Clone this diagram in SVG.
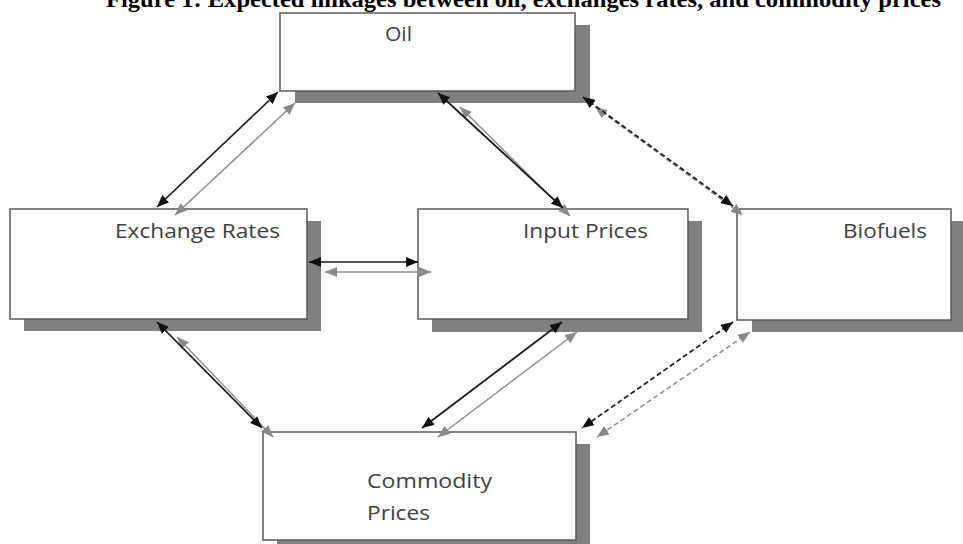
<svg xmlns="http://www.w3.org/2000/svg" width="963" height="544" viewBox="0 0 963 544">
<style>
.title{font-family:"Liberation Serif","Times New Roman",serif;font-weight:bold;font-size:23px;fill:#000}
.lbl{font-family:"Open Sans","Liberation Sans",sans-serif;font-size:20px;fill:#404040}
.box{fill:#fff;stroke:#595959;stroke-width:1.5}
.shadow{fill:#808080}
.blk{stroke:#1a1a1a;stroke-width:1.7;fill:none;marker-start:url(#hb);marker-end:url(#hb)}
.gry{stroke:#8f8f8f;stroke-width:1.5;fill:none;marker-start:url(#hg);marker-end:url(#hg)}
.dash{stroke-dasharray:5 3}
</style>
<defs>
<marker id="hb" viewBox="0 0 12 10" refX="12" refY="5" markerWidth="12" markerHeight="10" markerUnits="userSpaceOnUse" orient="auto-start-reverse"><path d="M0,0 L12,5 L0,10 Z" fill="#111"/></marker>
<marker id="hg" viewBox="0 0 12 10" refX="12" refY="5" markerWidth="12" markerHeight="10" markerUnits="userSpaceOnUse" orient="auto-start-reverse"><path d="M0,0 L12,5 L0,10 Z" fill="#8a8a8a"/></marker>
</defs>
<text class="title" x="106" y="7" textLength="835" lengthAdjust="spacingAndGlyphs">Figure 1: Expected linkages between oil, exchanges rates, and commodity prices</text>
<g id="oil">
<rect class="shadow" x="295" y="25" width="295" height="78"/>
<rect class="box" x="280" y="13" width="295" height="78"/>
<text class="lbl" x="385" y="41" textLength="27" lengthAdjust="spacingAndGlyphs">Oil</text>
</g>
<g id="exchange-rates">
<rect class="shadow" x="24" y="221" width="297" height="110"/>
<rect class="box" x="10" y="209" width="297" height="110"/>
<text class="lbl" x="115" y="238" textLength="165" lengthAdjust="spacingAndGlyphs">Exchange Rates</text>
</g>
<g id="input-prices">
<rect class="shadow" x="432" y="221" width="270" height="111"/>
<rect class="box" x="418" y="209" width="270" height="110"/>
<text class="lbl" x="523" y="238" textLength="125" lengthAdjust="spacingAndGlyphs">Input Prices</text>
</g>
<g id="biofuels">
<rect class="shadow" x="752" y="221" width="214" height="111"/>
<rect class="box" x="737" y="209" width="214" height="111"/>
<text class="lbl" x="843" y="238" textLength="84" lengthAdjust="spacingAndGlyphs">Biofuels</text>
</g>
<g id="commodity-prices">
<rect class="shadow" x="277" y="444" width="313" height="110"/>
<rect class="box" x="263" y="432" width="313" height="108"/>
<text class="lbl" x="367" y="488" textLength="125" lengthAdjust="spacingAndGlyphs">Commodity</text>
<text class="lbl" x="367" y="520" textLength="63" lengthAdjust="spacingAndGlyphs">Prices</text>
</g>
<g id="connectors">
<line class="gry" x1="295" y1="103" x2="175" y2="215"/>
<line class="blk" x1="278" y1="92" x2="157" y2="207"/>
<line class="gry" x1="460" y1="107" x2="570" y2="216"/>
<line class="blk" x1="438" y1="93" x2="563" y2="208"/>
<line class="gry dash" x1="595" y1="107" x2="743" y2="215"/>
<line class="blk dash" x1="583" y1="97" x2="733" y2="206"/>
<line class="blk" x1="309" y1="262" x2="418" y2="262"/>
<line class="gry" x1="325" y1="272" x2="431" y2="272"/>
<line class="gry" x1="177" y1="337" x2="273" y2="437"/>
<line class="blk" x1="157" y1="322" x2="262" y2="428"/>
<line class="blk" x1="562" y1="322" x2="422" y2="428"/>
<line class="gry" x1="577" y1="332" x2="438" y2="437"/>
<line class="blk dash" x1="733" y1="322" x2="582" y2="428"/>
<line class="gry dash" x1="750" y1="332" x2="597" y2="437"/>
</g>
</svg>
